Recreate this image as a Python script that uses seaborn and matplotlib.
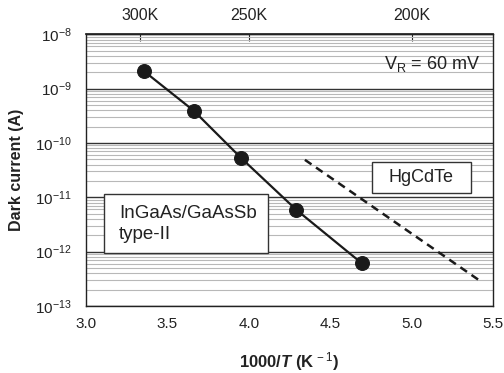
import numpy as np
import pandas as pd
import matplotlib
matplotlib.use("Agg")
import matplotlib.pyplot as plt
import matplotlib.ticker as mticker
from matplotlib.patches import Rectangle
import seaborn as sns

# InGaAs/GaAsSb type-II measured points
inv_t = [3.356, 3.663, 3.953, 4.292, 4.695]
dark_current = [2.1e-9, 3.9e-10, 5.3e-11, 5.9e-12, 6.1e-13]

# HgCdTe reference (dashed)
hg_inv_t = [4.345, 5.414]
hg_current = [4.9e-11, 3.0e-13]

top_temps = [300, 250, 200]
top_labels = ["300K", "250K", "200K"]
y_decades = [-13, -12, -11, -10, -9, -8]

sns.set_theme(style="white")
plt.rcParams["font.family"] = ["Liberation Sans", "DejaVu Sans"]
plt.rcParams["mathtext.fontset"] = "custom"
plt.rcParams["mathtext.rm"] = "Liberation Sans"
plt.rcParams["mathtext.bf"] = "Liberation Sans:bold"
plt.rcParams["mathtext.it"] = "Liberation Sans:italic:bold"

ink = "#222222"

fig = plt.figure(figsize=(5.04, 3.73), dpi=100)
ax = fig.add_axes([0.1706, 0.1796, 0.8074, 0.7284])

df = pd.DataFrame({"x": inv_t, "y": dark_current})
hg = pd.DataFrame({"x": hg_inv_t, "y": hg_current})

ax.set_yscale("log")
ax.set_xlim(3.0, 5.5)
ax.set_ylim(1e-13, 1e-8)

# grid
ax.yaxis.set_major_locator(mticker.FixedLocator([10.0 ** d for d in y_decades]))
ax.yaxis.set_minor_locator(mticker.LogLocator(base=10, subs=np.arange(2, 10), numticks=20))
ax.yaxis.set_minor_formatter(mticker.NullFormatter())
ax.yaxis.set_major_formatter(mticker.FuncFormatter(lambda v, p: r"$10^{%d}$" % round(np.log10(v))))
ax.grid(which="major", axis="y", color="#333333", lw=1.0)
ax.grid(which="minor", axis="y", color="#b8b8b8", lw=0.8)
ax.set_axisbelow(True)

sns.lineplot(data=df, x="x", y="y", ax=ax, color="#1a1a1a", lw=1.6,
             marker="o", markersize=10, markeredgecolor="#1a1a1a")
sns.lineplot(data=hg, x="x", y="y", ax=ax, color="#1a1a1a", lw=1.8,
             linestyle=(0, (3.2, 2.2)))

ax.set_xticks([3.0, 3.5, 4.0, 4.5, 5.0, 5.5])
ax.set_xticklabels(["3.0", "3.5", "4.0", "4.5", "5.0", "5.5"])
ax.tick_params(axis="x", direction="in", length=5, width=0.8, color=ink,
               labelsize=11, pad=8, labelcolor=ink)
ax.tick_params(axis="y", which="both", length=0, labelsize=11, pad=10, labelcolor=ink)

for s in ax.spines.values():
    s.set_color(ink)
    s.set_linewidth(1.0)

# top temperature axis
top = ax.secondary_xaxis("top")
top.set_xticks([1000.0 / t for t in top_temps])
top.set_xticklabels(top_labels)
top.tick_params(direction="in", length=5, width=0.8, color=ink,
                labelsize=11.5, pad=8, labelcolor=ink)

ax.set_xlabel(r"1000/$\mathit{T}$ (K$^{\,-1}$)", fontsize=12, fontweight="bold",
              labelpad=14, color=ink)
ax.set_ylabel("Dark current (A)", fontsize=11.5, fontweight="bold", labelpad=8, color=ink)

ax.text(0.968, 0.892, r"V$_\mathrm{R}$ = 60 mV", transform=ax.transAxes,
        ha="right", va="center", fontsize=13, color=ink)

# label boxes
ax.add_patch(Rectangle((0.703, 0.416), 0.243, 0.114, transform=ax.transAxes,
                       fc="white", ec="#333333", lw=1.0, zorder=3))
ax.text(0.824, 0.473, "HgCdTe", transform=ax.transAxes, ha="center", va="center",
        fontsize=13, color=ink, zorder=4)
ax.add_patch(Rectangle((0.044, 0.195), 0.403, 0.217, transform=ax.transAxes,
                       fc="white", ec="#333333", lw=1.0, zorder=3))
ax.text(0.081, 0.302, "InGaAs/GaAsSb\ntype-II", transform=ax.transAxes,
        ha="left", va="center", fontsize=13.5, linespacing=1.25, color=ink, zorder=4)

fig.savefig("out.png", dpi=100)
